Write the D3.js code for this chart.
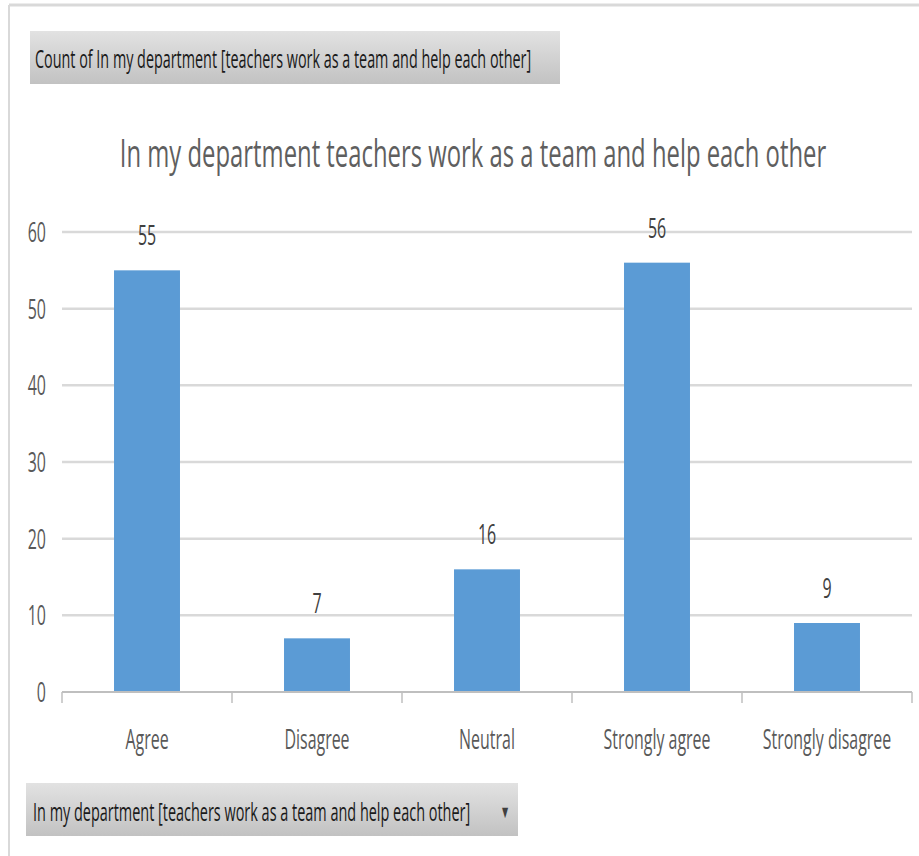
<!DOCTYPE html>
<html><head><meta charset="utf-8">
<script src="https://cdnjs.cloudflare.com/ajax/libs/d3/7.8.5/d3.min.js"></script>
<style>
html,body{margin:0;padding:0;background:#fff;}
svg{display:block;}
</style></head>
<body>
<script>
const categories = ["Agree", "Disagree", "Neutral", "Strongly agree", "Strongly disagree"];
const counts = [55, 7, 16, 56, 9];
const yTicks = [0, 10, 20, 30, 40, 50, 60];
const titleText = "In my department teachers work as a team and help each other";
const valueButtonText = "Count of In my department [teachers work as a team and help each other]";
const axisButtonText = "In my department [teachers work as a team and help each other]";

const W = 919, H = 856;
const FONT = "'Open Sans', 'Noto Sans', sans-serif";
const K = 0.57; // horizontal compression of glyphs
const TXT = "#595959";

const svg = d3.select("body").append("svg").attr("width", W).attr("height", H);
const defs = svg.append("defs");
const grad = defs.append("linearGradient").attr("id", "btn").attr("x1", 0).attr("x2", 0).attr("y1", 0).attr("y2", 1);
grad.append("stop").attr("offset", "0%").attr("stop-color", "#e2e2e2");
grad.append("stop").attr("offset", "100%").attr("stop-color", "#c2c2c2");

// outer frame
svg.append("line").attr("x1", 9).attr("x2", W).attr("y1", 5).attr("y2", 5).attr("stroke", "#d9d9d9").attr("stroke-width", 3);
svg.append("line").attr("x1", 9).attr("x2", 9).attr("y1", 5).attr("y2", H).attr("stroke", "#d9d9d9").attr("stroke-width", 2);

function txt(g, x, y, s, size, anchor, color, width) {
  const t = g.append("text")
    .attr("transform", `translate(${x},${y}) scale(${K},1)`)
    .attr("font-family", FONT).attr("font-size", size)
    .attr("text-anchor", anchor || "start").attr("fill", color || TXT)
    .text(s);
  if (width) {
    const len = t.node().getComputedTextLength();
    t.attr("transform", `translate(${x},${y}) scale(${width / len},1)`);
  }
  return t;
}

// value field button
svg.append("rect").attr("x", 30).attr("y", 31).attr("width", 530).attr("height", 53).attr("fill", "url(#btn)");
txt(svg, 35, 68, valueButtonText, 25, "start", "#1a1a1a", 496);

// title
txt(svg, 473, 167, titleText, 38, "middle", "#5f5f5f", 706);

// plot
const x0 = 62, x1 = 912, yTop = 232, yBot = 692;
const x = d3.scaleBand().domain(categories).range([x0, x1]).paddingInner(0.612).paddingOuter(0.306);
const y = d3.scaleLinear().domain([0, 60]).range([yBot, yTop]);

// gridlines
svg.append("g").selectAll("line").data(yTicks.filter(d => d > 0)).join("line")
  .attr("x1", x0).attr("x2", x1).attr("y1", d => y(d)).attr("y2", d => y(d))
  .attr("stroke", "#d9d9d9").attr("stroke-width", 2.5);

// y tick labels
const yl = svg.append("g");
yTicks.forEach(d => txt(yl, 46, y(d) + 10, String(d), 28, "end"));

// bars
svg.append("g").selectAll("rect").data(counts).join("rect")
  .attr("x", (d, i) => x(categories[i])).attr("width", x.bandwidth())
  .attr("y", d => y(d)).attr("height", d => y(0) - y(d))
  .attr("fill", "#5b9bd5");

// x axis
svg.append("line").attr("x1", x0).attr("x2", x1).attr("y1", yBot).attr("y2", yBot).attr("stroke", "#bfbfbf").attr("stroke-width", 2);
const bnd = categories.map(c => x(c) - x.step() * x.paddingInner() / 2).concat([x1]);
svg.append("g").selectAll("line").data(bnd).join("line")
  .attr("x1", d => d).attr("x2", d => d).attr("y1", yBot).attr("y2", yBot + 11)
  .attr("stroke", "#bfbfbf").attr("stroke-width", 1.5);

// category labels
const cl = svg.append("g");
categories.forEach(c => txt(cl, x(c) + x.bandwidth() / 2, 749, c, 28, "middle"));

// data labels
const dl = svg.append("g");
counts.forEach((v, i) => txt(dl, x(categories[i]) + x.bandwidth() / 2, y(v) - 25, String(v), 28, "middle", "#404040"));

// axis field button
svg.append("rect").attr("x", 26).attr("y", 783).attr("width", 492).attr("height", 53).attr("fill", "url(#btn)");
txt(svg, 33, 821, axisButtonText, 25, "start", "#1a1a1a", 437);
txt(svg, 505, 818, "\u25BC", 18, "middle", "#404040");
</script>
</body></html>
